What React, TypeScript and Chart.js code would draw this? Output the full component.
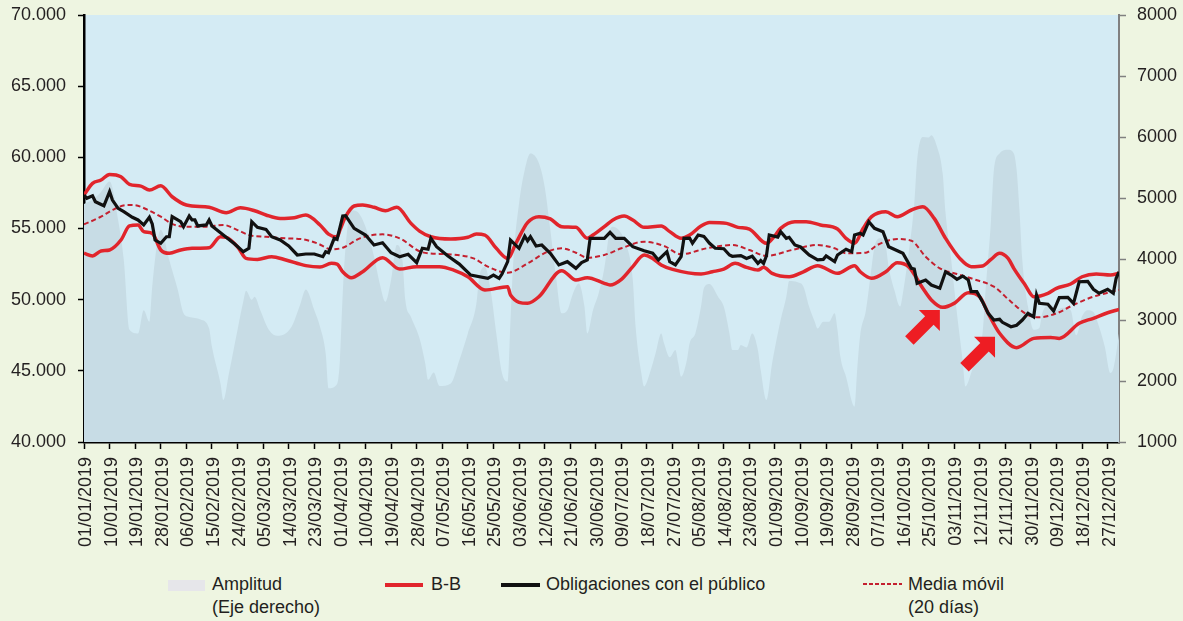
import React, { useEffect, useRef } from "react";
import { Chart, registerables } from "chart.js";

Chart.register(...registerables);

const FONT = "'Liberation Sans', Arial, Helvetica, sans-serif";
const TEXT = "#231f20";
const PAGE_BG = "#eef5e1";
const PLOT_BG = "#d4ebf4";
const AREA = "#c7dce5";
const RED = "#e1252c";
const BLACK = "#111111";
const DASH = "#c4202f";
const ARROW = "#ee1d23";

// ---- tick labels ----
const xTickLabels = [
  "01/01/2019", "10/01/2019", "19/01/2019", "28/01/2019", "06/02/2019", "15/02/2019",
  "24/02/2019", "05/03/2019", "14/03/2019", "23/03/2019", "01/04/2019", "10/04/2019",
  "19/04/2019", "28/04/2019", "07/05/2019", "16/05/2019", "25/05/2019", "03/06/2019",
  "12/06/2019", "21/06/2019", "30/06/2019", "09/07/2019", "18/07/2019", "27/07/2019",
  "05/08/2019", "14/08/2019", "23/08/2019", "01/09/2019", "10/09/2019", "19/09/2019",
  "28/09/2019", "07/10/2019", "16/10/2019", "25/10/2019", "03/11/2019", "12/11/2019",
  "21/11/2019", "30/11/2019", "09/12/2019", "18/12/2019", "27/12/2019",
];
const xTickDays = xTickLabels.map((_, i) => i * 9);
const leftTicks = [40000, 45000, 50000, 55000, 60000, 65000, 70000];
const rightTicks = [1000, 2000, 3000, 4000, 5000, 6000, 7000, 8000];

// ---- Amplitud (right axis) ----
const amplitudDays = [0,3,6,9,12,14,16,19,21,23,24,26,27,30,33,35,37,41,44,45,48,49,51,54,56,57,59,60,62,65,68,73,76,78,81,83,85,86,89,90,91,92,94,96,99,102,104,106,108,110,112,113,115,118,120,121,123,125,129,132,135,138,139,141,143,145,147,149,150,151,153,155,157,160,162,164,166,168,170,172,174,176,177,179,181,183,185,186,188,190,193,194,196,197,199,201,203,204,206,208,209,210,212,213,215,217,218,220,221,223,225,227,228,230,231,233,235,237,238,240,242,244,245,247,248,251,253,255,257,258,260,262,264,265,266,268,271,272,273,275,277,278,280,282,283,285,287,288,290,292,293,295,297,298,300,302,303,305,307,309,310,312,314,316,317,319,320,322,325,327,328,329,330,332,334,336,337,340,342,344,347,349,351,353,355,357,359,361,362,363,364];
const amplitudValues = [4900,4970,5100,5270,4640,3980,2840,2780,3160,2970,3550,4340,4480,3980,3490,3110,3050,3010,2860,2560,1960,1690,2130,2840,3300,3480,3330,3380,3160,2840,2740,2890,3250,3500,3160,2890,2450,1880,1950,2340,3440,4200,4800,4780,4530,4040,3600,3300,3660,4230,3980,3330,3050,2700,2290,2020,2140,1920,1960,2340,2780,3270,3710,3870,3490,2780,2130,1990,3000,3980,4910,5460,5730,5570,5190,4480,3710,3110,3160,3440,3600,3220,2780,3160,3440,3850,4480,4530,4480,4310,3660,2890,2130,1910,2130,2450,2780,2620,2390,2510,2290,2070,2340,2620,2780,3220,3520,3590,3550,3380,3220,2780,2510,2510,2590,2550,2780,2510,2180,1690,2290,2780,3000,3380,3640,3620,3550,3220,2970,2860,2970,2970,3110,2840,2400,2070,1580,2240,2760,3160,3870,4200,4340,4200,3870,3490,3220,3440,4090,4910,5620,6000,5990,6030,5840,5400,4750,3980,3110,2340,1910,2130,2450,2780,3440,4640,5460,5730,5790,5730,5460,4800,3980,3220,2840,2870,3110,3250,3160,3200,3160,2750,3060,3160,3130,2890,2560,2130,2200,2450,2780];

// ---- B-B upper band ----
const bbUpperDays = [0,3,6,9,13,16,20,23,27,31,36,44,50,55,60,64,69,74,78,83,86,89,90,92,95,98,102,106,110,115,118,122,129,135,138,141,145,149,152,156,160,164,168,173,177,179,183,186,190,193,197,203,206,210,213,217,220,226,230,234,240,243,245,250,254,259,265,268,271,274,277,282,286,291,295,299,303,308,312,316,319,322,325,327,331,334,339,342,347,351,356,361,364];
const bbUpperValues = [57350,58170,58410,58800,58640,58100,57980,57700,58000,57230,56650,56490,56110,56460,56250,55950,55710,55760,55950,55250,54600,54400,54890,55830,56580,56650,56490,56250,56490,55360,54820,54420,54260,54380,54610,54540,53610,52900,54000,55410,55830,55670,55130,55080,54310,54540,55130,55600,55880,55600,55080,55180,54780,54310,54540,55180,55430,55360,55080,54960,53960,54500,55010,55480,55480,55250,54960,54310,53960,55000,55830,56180,55830,56300,56530,55710,54310,52900,52320,52370,52830,53260,52900,52200,51030,50210,50450,50800,51100,51610,51800,51730,51850];

// ---- B-B lower band ----
const bbLowerDays = [0,3,6,9,13,16,19,21,24,27,30,34,38,44,48,50,54,57,61,66,71,78,83,87,89,91,94,98,105,111,117,125,130,135,141,149,150,156,160,168,173,177,183,185,189,193,197,200,203,207,217,221,225,229,233,237,239,242,248,253,258,265,271,273,277,282,286,290,295,298,302,306,311,315,318,322,328,334,340,343,350,355,360,364];
const bbLowerValues = [53260,53070,53420,53490,54190,55180,55250,54780,54660,53490,53260,53490,53610,53650,54420,54380,53720,52900,52830,53020,52790,52390,52290,52550,52500,51960,51540,51960,52950,52150,52320,52320,52080,51610,50680,50910,50330,49740,50210,52040,51380,51540,51150,51030,51430,52320,53140,52900,52440,52130,51800,51960,52150,52550,52270,52080,52270,51850,51610,51960,52390,51850,52390,51960,51500,51960,52600,52320,50800,49980,49460,49740,50490,50210,49040,47640,46630,47280,47350,47280,48340,48690,49080,49320];

// ---- Obligaciones con el público ----
const obligDays = [0,1,3,4,7,9,10,12,14,17,19,21,23,24,25,27,29,30,31,34,35,37,38,39,40,43,44,45,49,53,56,58,59,61,64,66,69,72,75,78,81,84,85,86,88,89,91,92,95,99,102,105,108,111,114,117,119,121,122,124,128,132,136,142,144,146,147,149,150,153,155,156,157,159,161,164,167,170,173,175,177,178,183,185,187,190,193,197,200,202,205,206,208,210,211,213,214,216,218,220,222,225,227,228,231,233,235,237,238,239,240,241,244,245,247,248,250,252,255,258,260,261,264,265,268,270,271,273,274,276,278,281,283,288,291,292,293,296,298,301,303,305,307,309,311,312,314,316,318,320,322,323,326,328,330,332,334,335,336,339,341,343,346,348,350,353,355,357,360,362,363,364];
const obligValues = [57350,57120,57300,56880,56600,57590,57000,56420,56180,55790,55600,55250,55790,55320,54190,53960,54420,54420,55830,55480,55130,55880,55600,55600,55180,55250,55600,55180,54540,53910,53370,53610,55480,55080,54940,54420,54190,53770,53140,53210,53210,53020,53370,53300,54310,54240,55880,55900,55010,54540,53840,54000,53300,53020,53190,52600,53610,53540,54310,53720,53070,52500,51730,51500,51730,51500,51800,52670,54190,53610,54470,54140,54420,53770,53840,53260,52440,52670,52200,52600,52790,54310,54310,54730,54310,54310,53720,53440,53260,52790,53370,52670,52440,53020,54310,54330,53960,54540,54450,53960,53610,53580,53140,53050,53100,52900,53050,52550,52750,52550,53070,54540,54400,54780,54310,54380,53840,53700,53140,52790,52830,53070,52670,53140,53540,53370,54540,54660,54540,55480,55010,54780,53720,53260,52200,52150,51150,51380,51030,50800,51960,51730,51430,51660,51380,50560,50560,49860,49040,48570,48620,48410,48100,48200,48570,49040,48800,50330,49740,49680,49200,50140,50160,49740,51260,51290,50730,50450,50730,50450,51500,51960];

// ---- Media móvil (20 días) ----
const mediaDays = [0,6,10,15,18,22,27,31,36,43,49,54,58,64,71,77,82,87,91,97,105,111,119,128,137,142,149,156,163,168,173,177,183,189,197,204,210,219,228,234,240,249,258,264,268,275,279,286,291,296,301,307,313,320,326,332,336,342,348,355,364];
const mediaValues = [55290,55830,56300,56650,56630,56350,55830,55320,55130,55130,55250,54890,54540,54420,54310,54240,53960,53540,53650,54310,54590,54310,53330,53190,52900,52320,51890,52550,53370,53610,53300,52950,53140,53610,54070,53770,53190,53610,53840,53490,53070,53490,53840,53610,53260,53300,53840,54260,54140,53020,52200,51800,51430,50910,49860,48920,48760,49040,49630,50210,50680];

// ---- annotation arrows (tip position in data units) ----
const arrowTipDays = [301, 320.4];
const arrowTipValues = [49270, 47400];

const pts = (xs: number[], ys: number[]) => xs.map((x, i) => ({ x, y: ys[i] }));
const fmtThousands = (v: number) =>
  String(Math.round(v)).replace(/\B(?=(\d{3})+(?!\d))/g, ".");

const plotBgPlugin = {
  id: "plotBg",
  beforeDraw(chart: any) {
    const { ctx, chartArea: a } = chart;
    ctx.save();
    ctx.fillStyle = PLOT_BG;
    ctx.fillRect(a.left, a.top, a.right - a.left, a.bottom - a.top);
    ctx.restore();
  },
};

const arrowPlugin = {
  id: "arrows",
  afterDatasetsDraw(chart: any) {
    const { ctx, scales } = chart;
    ctx.save();
    ctx.fillStyle = ARROW;
    arrowTipDays.forEach((d, i) => {
      const tx = scales.x.getPixelForValue(d);
      const ty = scales.y.getPixelForValue(arrowTipValues[i]);
      const head = 21;
      const halfW = 6;
      const k = halfW / Math.SQRT2;
      const L = 20;
      const mx = tx - head / 2;
      const my = ty + head / 2;
      ctx.beginPath();
      ctx.moveTo(tx, ty);
      ctx.lineTo(tx, ty + head);
      ctx.lineTo(mx + k, my + k);
      ctx.lineTo(mx + k - L, my + k + L);
      ctx.lineTo(mx - k - L, my - k + L);
      ctx.lineTo(mx - k, my - k);
      ctx.lineTo(tx - head, ty);
      ctx.closePath();
      ctx.fill();
    });
    ctx.restore();
  },
};

export default function App() {
  const ref = useRef<HTMLCanvasElement | null>(null);

  useEffect(() => {
    if (!ref.current) return;
    Chart.defaults.font.family = FONT;
    Chart.defaults.font.size = 18;
    Chart.defaults.color = TEXT;

    const chart = new Chart(ref.current, {
      type: "line",
      data: {
        datasets: [
          {
            label: "Obligaciones con el público",
            data: pts(obligDays, obligValues),
            borderColor: BLACK,
            borderWidth: 3.2,
            pointRadius: 0,
            tension: 0,
            yAxisID: "y",
            order: 0,
          },
          {
            label: "Media móvil (20 días)",
            data: pts(mediaDays, mediaValues),
            borderColor: DASH,
            borderWidth: 2,
            borderDash: [5, 3],
            pointRadius: 0,
            cubicInterpolationMode: "monotone",
            yAxisID: "y",
            order: 1,
          },
          {
            label: "B-B superior",
            data: pts(bbUpperDays, bbUpperValues),
            borderColor: RED,
            borderWidth: 3.5,
            pointRadius: 0,
            cubicInterpolationMode: "monotone",
            yAxisID: "y",
            order: 2,
          },
          {
            label: "B-B inferior",
            data: pts(bbLowerDays, bbLowerValues),
            borderColor: RED,
            borderWidth: 3.5,
            pointRadius: 0,
            cubicInterpolationMode: "monotone",
            yAxisID: "y",
            order: 2,
          },
          {
            label: "Amplitud (Eje derecho)",
            data: pts(amplitudDays, amplitudValues),
            borderWidth: 0,
            borderColor: AREA,
            backgroundColor: AREA,
            fill: "start",
            pointRadius: 0,
            cubicInterpolationMode: "monotone",
            yAxisID: "y2",
            order: 3,
          },
        ],
      },
      options: {
        responsive: false,
        animation: false,
        events: [],
        layout: { padding: { top: 15, left: 0, right: 0, bottom: 0 } },
        plugins: { legend: { display: false }, tooltip: { enabled: false } },
        scales: {
          x: {
            type: "linear",
            min: 0,
            max: 364,
            afterBuildTicks: (s: any) => {
              s.ticks = xTickDays.map((v) => ({ value: v }));
            },
            afterFit: (s: any) => {
              s.height = 118;
              s.paddingLeft = 0;
              s.paddingRight = 0;
            },
            ticks: {
              autoSkip: false,
              maxRotation: 90,
              minRotation: 90,
              padding: 8,
              labelOffset: 2,
              color: TEXT,
              font: { size: 18, family: FONT },
              callback: (_v: any, i: number) => xTickLabels[i],
            },
            grid: {
              drawOnChartArea: false,
              drawTicks: true,
              tickLength: 7,
              tickColor: "#000",
              tickWidth: 1.5,
              color: "#000",
            },
            border: { display: true, color: "#000", width: 2.5 },
          },
          y: {
            position: "left",
            min: 40000,
            max: 70000,
            afterBuildTicks: (s: any) => {
              s.ticks = leftTicks.map((v) => ({ value: v }));
            },
            afterFit: (s: any) => {
              s.width = 84;
              s.paddingTop = 0;
              s.paddingBottom = 0;
            },
            ticks: {
              padding: 12,
              color: TEXT,
              font: { size: 18, family: FONT },
              callback: (v: any) => fmtThousands(Number(v)),
            },
            grid: {
              drawOnChartArea: false,
              drawTicks: true,
              tickLength: 6,
              tickColor: "#000",
              tickWidth: 1.5,
              color: "#000",
            },
            border: { display: true, color: "#000", width: 2.5 },
          },
          y2: {
            position: "right",
            min: 1000,
            max: 8000,
            afterBuildTicks: (s: any) => {
              s.ticks = rightTicks.map((v) => ({ value: v }));
            },
            afterFit: (s: any) => {
              s.width = 64;
              s.paddingTop = 0;
              s.paddingBottom = 0;
            },
            ticks: {
              padding: 11,
              color: TEXT,
              font: { size: 18, family: FONT },
              callback: (v: any) => String(v),
            },
            grid: {
              drawOnChartArea: false,
              drawTicks: true,
              tickLength: 7,
              tickColor: "#808080",
              tickWidth: 1.5,
              color: "#808080",
            },
            border: { display: true, color: "#808080", width: 2 },
          },
        },
      },
      plugins: [plotBgPlugin, arrowPlugin],
    } as any);

    return () => chart.destroy();
  }, []);

  const textStyle: React.CSSProperties = {
    position: "absolute",
    top: 573,
    fontFamily: FONT,
    fontSize: 18,
    lineHeight: "23px",
    color: TEXT,
    whiteSpace: "nowrap",
  };

  return (
    <div
      style={{
        position: "fixed",
        left: 0,
        top: 0,
        width: 1183,
        height: 621,
        background: PAGE_BG,
        overflow: "hidden",
      }}
    >
      <canvas
        ref={ref}
        width={1183}
        height={560}
        style={{ position: "absolute", left: 0, top: 0, display: "block" }}
      />
      <div style={{ position: "absolute", left: 168, top: 580, width: 37, height: 11, background: "#e6e6ea" }} />
      <div style={{ ...textStyle, left: 212 }}>
        Amplitud
        <br />
        (Eje derecho)
      </div>
      <div style={{ position: "absolute", left: 385, top: 583, width: 38, height: 3.5, background: RED }} />
      <div style={{ ...textStyle, left: 431 }}>B-B</div>
      <div style={{ position: "absolute", left: 501, top: 583, width: 39, height: 3.5, background: BLACK }} />
      <div style={{ ...textStyle, left: 546 }}>Obligaciones con el público</div>
      <svg style={{ position: "absolute", left: 863, top: 582 }} width={39} height={4}>
        <line x1={0} y1={2} x2={39} y2={2} stroke={DASH} strokeWidth={2} strokeDasharray="4 2" />
      </svg>
      <div style={{ ...textStyle, left: 908 }}>
        Media móvil
        <br />
        (20 días)
      </div>
    </div>
  );
}
